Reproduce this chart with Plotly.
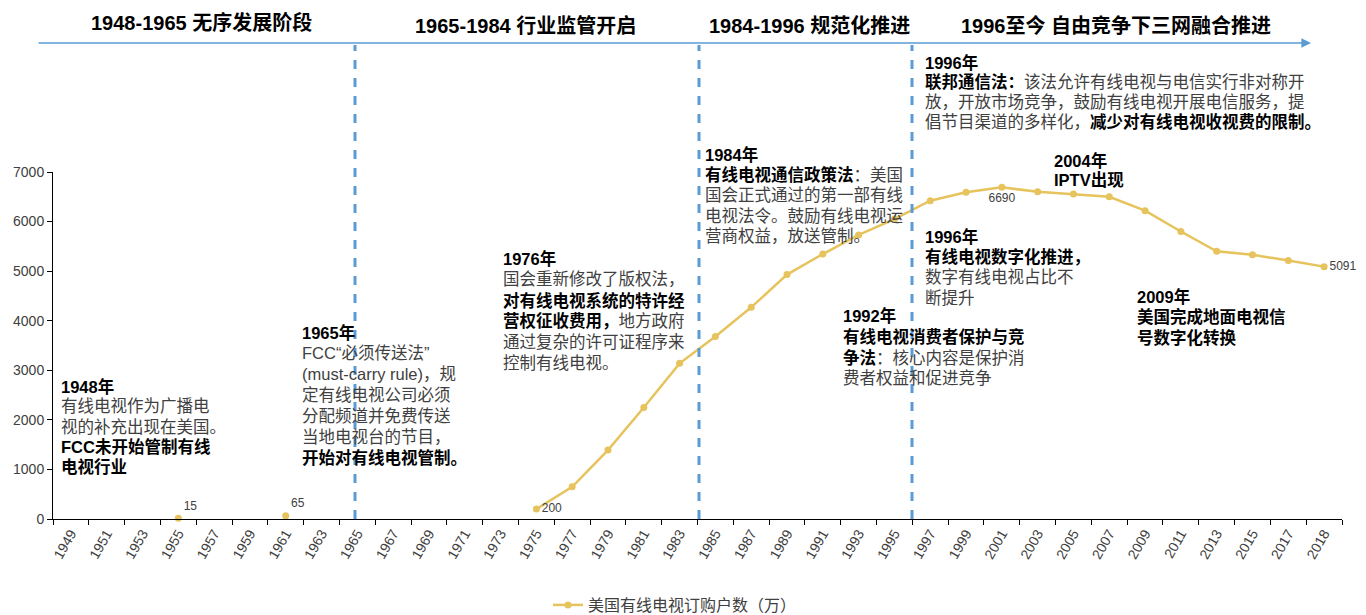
import re
import plotly.graph_objects as go

# ---------------- data ----------------
years = [str(y) for y in range(1949, 2018, 2)] + ["2018"]
subscribers = [None, None, None, 15, None, None, 65, None, None, None, None, None, None,
               200, 650, 1390, 2250, 3140, 3680, 4270, 4930, 5345, 5730, 6050,
               6420, 6590, 6690, 6600, 6555, 6500, 6220, 5800, 5400, 5330, 5215, 5091]
label_years = {"1955": "15", "1961": "65", "1975": "200", "2001": "6690", "2018": "5091"}
label_pos = {"1955": "top right", "1961": "top right", "1975": "middle right",
             "2001": "bottom center", "2018": "middle right"}
series_name = "美国有线电视订购户数（万）"

phase_titles = ["1948-1965 无序发展阶段", "1965-1984 行业监管开启",
                "1984-1996 规范化推进", "1996至今 自由竞争下三网融合推进"]

events = [
    ["<b>1948年</b>", "有线电视作为广播电", "视的补充出现在美国。", "<b>FCC未开始管制有线</b>", "<b>电视行业</b>"],
    ["<b>1965年</b>", "FCC“必须传送法”", "(must-carry rule)，规", "定有线电视公司必须",
     "分配频道并免费传送", "当地电视台的节目，", "<b>开始对有线电视管制。</b>"],
    ["<b>1976年</b>", "国会重新修改了版权法，", "<b>对有线电视系统的特许经</b>",
     "<b>营权征收费用，</b>地方政府", "通过复杂的许可证程序来", "控制有线电视。"],
    ["<b>1984年</b>", "<b>有线电视通信政策法</b>：美国", "国会正式通过的第一部有线",
     "电视法令。鼓励有线电视运", "营商权益，放送管制。"],
    ["<b>1992年</b>", "<b>有线电视消费者保护与竞</b>", "<b>争法</b>：核心内容是保护消", "费者权益和促进竞争"],
    ["<b>1996年</b>", "<b>联邦通信法：</b>该法允许有线电视与电信实行非对称开",
     "放，开放市场竞争，鼓励有线电视开展电信服务，提",
     "倡节目渠道的多样化，<b>减少对有线电视收视费的限制。</b>"],
    ["<b>2004年</b>", "<b>IPTV出现</b>"],
    ["<b>1996年</b>", "<b>有线电视数字化推进，</b>", "数字有线电视占比不", "断提升"],
    ["<b>2009年</b>", "<b>美国完成地面电视信</b>", "<b>号数字化转换</b>"],
]

# ---------------- layout helpers (pixel -> paper) ----------------
W, H = 1366, 615
L, R, T, B = 53, 1342, 172, 519
def px(x):
    return (x - L) / (R - L)
def py(y):
    return (B - y) / (B - T)

GOLD = "#E6C35C"
BLUE = "#5B9BD5"
GRAY = "#404040"
CJK = "Liberation Sans, Noto Sans CJK SC, sans-serif"

def blacken(s):
    return re.sub(r"<b>(.*?)</b>", r"<b><span style='color:#000000'>\1</span></b>", s)

texts = [label_years.get(y, "") for y in years]
tpos = [label_pos.get(y, "top right") for y in years]

fig = go.Figure()
fig.add_trace(go.Scatter(
    x=years, y=subscribers, name=series_name, mode="lines+markers+text",
    line=dict(color=GOLD, width=2.5), marker=dict(color=GOLD, size=7),
    text=texts, textposition=tpos, cliponaxis=False,
    textfont=dict(family="Liberation Sans, Arial", size=12, color=GRAY),
    connectgaps=False, showlegend=True,
))

annotations = []
title_pos = [(201, 22), (525, 26), (809, 26), (1116, 26)]
for t, (x, y) in zip(phase_titles, title_pos):
    annotations.append(dict(text="<b>" + t + "</b>", x=px(x), y=py(y), xref="paper", yref="paper",
                            xanchor="center", yanchor="middle", showarrow=False,
                            font=dict(family=CJK, size=20, color="#000000")))

block_pos = [(59, 386, 20.3), (300, 332, 20.9), (501, 258, 21.0), (703, 154, 20.6),
             (841, 315, 21.0), (923, 62, 20.0), (1052, 160, 20.0), (923, 236, 20.7),
             (1135, 296, 20.5)]
for lines, (x0, y0, dy) in zip(events, block_pos):
    for i, ln in enumerate(lines):
        annotations.append(dict(text=blacken(ln), x=px(x0), y=py(y0 + i * dy), xref="paper", yref="paper",
                                xanchor="left", yanchor="middle", showarrow=False,
                                font=dict(family=CJK, size=16.5, color=GRAY)))

annotations.append(dict(text="", x=px(1311), y=py(43), xref="paper", yref="paper",
                        ax=-(1311 - 37), ay=0, axref="pixel", ayref="pixel",
                        showarrow=True, arrowhead=2, arrowsize=1.2, arrowwidth=1.6,
                        arrowcolor=BLUE))

shapes = []
for xline in (355, 699, 912):
    shapes.append(dict(type="line", xref="paper", yref="paper", x0=px(xline), x1=px(xline),
                       y0=0, y1=py(45), line=dict(color=BLUE, width=3, dash="dash")))

fig.update_layout(
    width=W, height=H, margin=dict(l=L, r=W - R, t=T, b=H - B, autoexpand=False),
    paper_bgcolor="white", plot_bgcolor="white",
    font=dict(family=CJK, color=GRAY),
    annotations=annotations, shapes=shapes,
    legend=dict(orientation="h", xref="container", yref="container",
                x=675 / W, y=1 - 605 / H, xanchor="center", yanchor="middle",
                font=dict(family="Noto Sans CJK SC", size=16, color=GRAY)),
    xaxis=dict(type="category", categoryorder="array", categoryarray=years, automargin=False,
               range=[-0.5, len(years) - 0.5], showline=True, linecolor="#000000", linewidth=1,
               ticks="outside", ticklen=5, tickcolor="#000000", tickson="boundaries",
               tickangle=-60, showgrid=False, zeroline=False,
               tickfont=dict(family="Liberation Sans, Arial", size=14, color=GRAY)),
    yaxis=dict(range=[0, 7000], dtick=1000, showline=True, linecolor="#000000", linewidth=1,
               ticks="outside", ticklen=5, tickcolor="#000000", showgrid=False, zeroline=False,
               automargin=False,
               tickfont=dict(family="Liberation Sans, Arial", size=14, color=GRAY)),
)

fig.write_html("out.html")
